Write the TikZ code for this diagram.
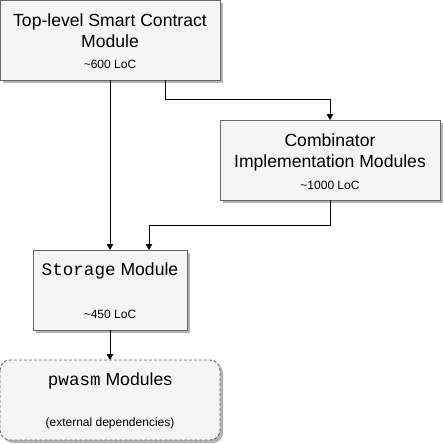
\documentclass[tikz,border=0pt]{standalone}
\usepackage{fontspec}
\setmainfont{Liberation Sans}
\newfontfamily\codefont{Liberation Mono}
\usetikzlibrary{arrows.meta}
\definecolor{boxfill}{HTML}{F5F5F5}
\definecolor{boxline}{HTML}{666666}
\definecolor{shadowc}{HTML}{B3B3B3}
\tikzset{
  modbox/.style={draw=boxline, fill=boxfill, line width=0.9pt},
  shade3/.style={fill=shadowc, draw=none},
  conn/.style={draw=black, line width=0.9pt, -{Triangle[length=6pt,width=6.5pt]}},
  big/.style={font=\fontsize{17.6}{21}\selectfont, align=center, inner sep=0pt},
  small/.style={font=\fontsize{12}{14}\selectfont, inner sep=0pt}
}
\begin{document}
\begin{tikzpicture}[x=1pt,y=-1pt]
\useasboundingbox (0,0) rectangle (443,444);
% shadows
\fill[shade3] (3,3) rectangle (223,83);
\fill[shade3] (223,123) rectangle (443,203);
\fill[shade3] (36,253) rectangle (190,333);
\fill[shade3, rounded corners=10pt] (3,363) rectangle (223,443);
% boxes
\path[modbox] (0,0) rectangle (220,80);
\path[modbox] (220,120) rectangle (440,200);
\path[modbox] (33,250) rectangle (187,330);
\path[modbox, dashed, dash pattern=on 3pt off 2pt, rounded corners=10pt] (0,360) rectangle (220,440);
% anchors
\coordinate (b1s) at (110,80);
\coordinate (b1r) at (165,80);
\coordinate (b2n) at (330,120);
\coordinate (b2s) at (330,200);
\coordinate (b3n) at (110,250);
\coordinate (b3r) at (149,250);
\coordinate (b3s) at (110,330);
\coordinate (b4n) at (110,360);
% texts
\node[big] (t1) at (110,31) {Top-level Smart Contract\\Module};
\node[small] (l1) at (110,64) {\textasciitilde600 LoC};
\node[big] (t2) at (330,152) {Combinator\\Implementation Modules};
\node[small] (l2) at (330,185) {\textasciitilde1000 LoC};
\node[big] (t3) at (110,271) {{\codefont Storage} Module};
\node[small] (l3) at (110,314) {\textasciitilde450 LoC};
\node[big] (t4) at (110,381) {{\codefont pwasm} Modules};
\node[small] (l4) at (110,423) {(external dependencies)};
% connectors
\draw[conn] (b1s) -- (b3n);
\draw[conn] (b1r) |- (330,99) -- (b2n);
\draw[conn] (b2s) |- (149,225) -- (b3r);
\draw[conn] (b3s) -- (b4n);
\end{tikzpicture}
\end{document}
